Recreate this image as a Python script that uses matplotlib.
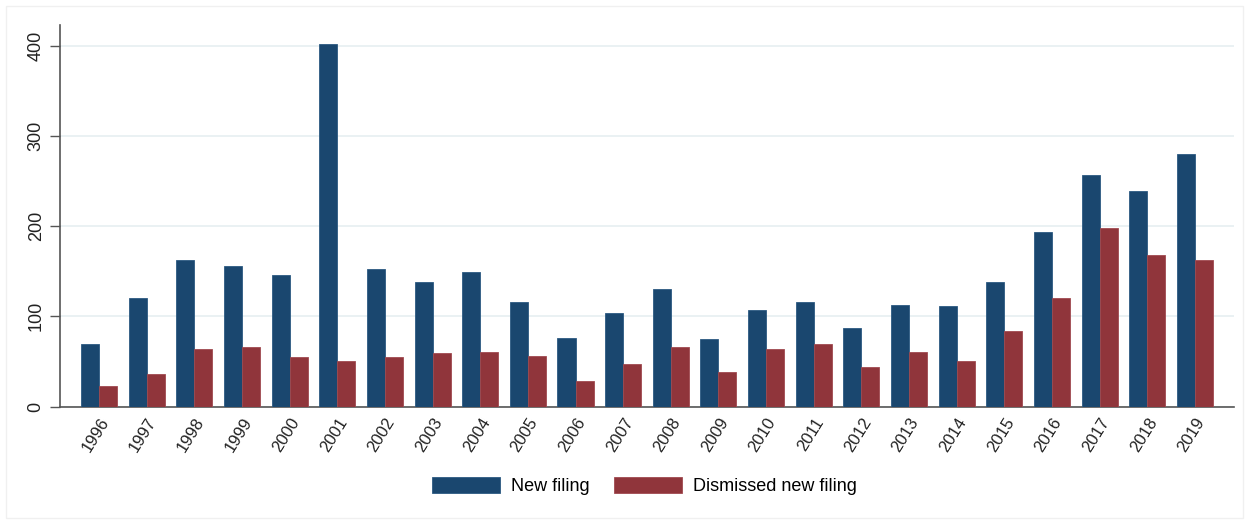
import numpy as np
import matplotlib
matplotlib.use("Agg")
import matplotlib.pyplot as plt
from matplotlib.patches import Rectangle

plt.rcParams['font.family'] = ['Liberation Sans', 'DejaVu Sans']

years = [str(y) for y in range(1996, 2020)]
new_filing = [69, 120, 163, 156, 146, 402, 152, 138, 149, 116, 76, 104,
              130, 75, 107, 116, 87, 113, 111, 138, 194, 257, 239, 280]
dismissed = [23, 36, 64, 66, 55, 50, 55, 59, 61, 56, 28, 47,
             66, 38, 64, 69, 44, 61, 51, 84, 120, 198, 168, 162]

navy = '#1a476f'
maroon = '#90353b'

fig = plt.figure(figsize=(12.49, 5.25), dpi=100)
# faint outer frame like the stata graph region
fig.patches.append(Rectangle((0.005, 0.013), 0.99, 0.975, transform=fig.transFigure,
                             fill=False, edgecolor='#f0f0f0', linewidth=1))
ax = fig.add_axes([0.048, 0.2257, 0.940, 0.7263])

x = np.arange(len(years))
w = 0.378
ax.bar(x - w / 2, new_filing, w, color=navy, edgecolor='#2c5a82', linewidth=0.6,
       label='New filing', zorder=3)
ax.bar(x + w / 2, dismissed, w, color=maroon, edgecolor='#a04a50', linewidth=0.6,
       label='Dismissed new filing', zorder=3)

ax.set_xlim(-0.82, len(years) - 1 + 0.82)
ax.set_ylim(0, 423)
ax.set_yticks([0, 100, 200, 300, 400])
ax.set_yticklabels(['0', '100', '200', '300', '400'], rotation=90, va='center',
                   fontsize=13, color='#222222')
ax.yaxis.grid(True, color='#eaf1f3', linewidth=1.4, zorder=0)
ax.tick_params(axis='y', length=7, width=1, color='#555555', pad=4)

ax.set_xticks(x)
ax.set_xticklabels(years, rotation=58, ha='right', rotation_mode='anchor',
                   fontsize=12, color='#222222')
ax.tick_params(axis='x', length=0, pad=6)

for s in ['top', 'right']:
    ax.spines[s].set_visible(False)
for s in ['left', 'bottom']:
    ax.spines[s].set_color('#555555')
    ax.spines[s].set_linewidth(1.2)

fig.legend(loc='center', bbox_to_anchor=(0.516, 0.074), ncol=2, frameon=False,
           fontsize=13, handlelength=3.75, handleheight=1.0, handletextpad=0.6,
           columnspacing=1.4)

fig.savefig('out.png', dpi=100)
